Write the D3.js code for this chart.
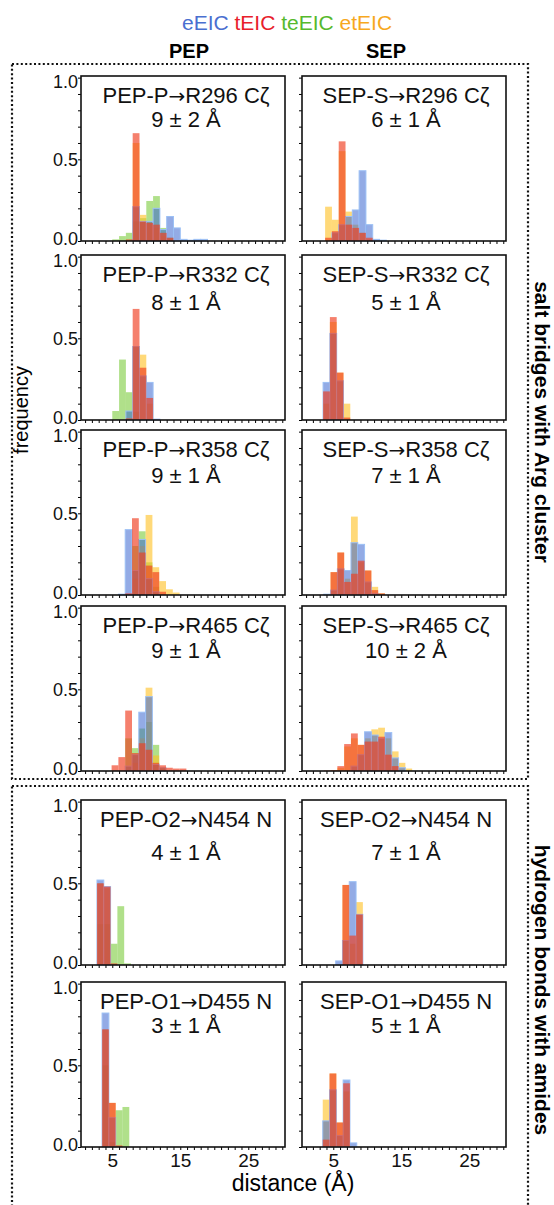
<!DOCTYPE html>
<html>
<head>
<meta charset="utf-8">
<script src="https://cdn.jsdelivr.net/npm/d3@7/dist/d3.min.js"></script>
<style>
  body { margin: 0; background: #fff; }
  svg { display: block; font-family: "Liberation Sans", Arial, sans-serif; }
</style>
</head>
<body>
<svg id="chart"></svg>
<script>
// panel order: row by row, PEP (left) then SEP (right)
const seriesNames = ["eEIC", "tEIC", "teEIC", "etEIC"];
const titleFrom = ["PEP-P", "SEP-S", "PEP-P", "SEP-S", "PEP-P", "SEP-S", "PEP-P", "SEP-S",
                   "PEP-O2", "SEP-O2", "PEP-O1", "SEP-O1"];
const titleTo = ["R296 Cζ", "R296 Cζ", "R332 Cζ", "R332 Cζ", "R358 Cζ", "R358 Cζ",
                 "R465 Cζ", "R465 Cζ", "N454 N", "N454 N", "D455 N", "D455 N"];
const means = ["9 ± 2 Å", "6 ± 1 Å", "8 ± 1 Å", "5 ± 1 Å", "9 ± 1 Å", "7 ± 1 Å",
               "9 ± 1 Å", "10 ± 2 Å", "4 ± 1 Å", "7 ± 1 Å", "3 ± 1 Å", "5 ± 1 Å"];
// left edge of first bin (Å), bins are 1 Å wide
const binStart = [5.0, 3.8, 5.0, 3.5, 5.9, 3.6, 4.9, 3.6, 2.75, 5.35, 3.5, 3.45];
const binWidth = 1;

const eEIC = [
  [0, 0, 0, 0.21, 0.12, 0.12, 0.20, 0.07, 0.15, 0.08, 0.01, 0.005, 0.01, 0.01],
  [0, 0.05, 0.10, 0.15, 0.19, 0.43, 0.10, 0.01, 0.005],
  [0, 0, 0.055, 0.45, 0.27, 0.23, 0.005],
  [0.23, 0.53, 0.24, 0],
  [0.005, 0.40, 0.15, 0.34, 0.10, 0.02, 0, 0, 0],
  [0.005, 0.03, 0.16, 0.15, 0.32, 0.31, 0.08, 0.01, 0],
  [0, 0, 0.03, 0.10, 0.36, 0.455, 0.04, 0.02, 0, 0, 0],
  [0, 0, 0, 0, 0.03, 0.10, 0.24, 0.22, 0.20, 0.235, 0.08, 0.02, 0],
  [0.52, 0.48, 0, 0, 0],
  [0.025, 0.15, 0.51, 0.31],
  [0.82, 0.18, 0, 0],
  [0.16, 0.35, 0.07, 0.41, 0.025]
];
const tEIC = [
  [0, 0, 0.01, 0.66, 0.12, 0.11, 0.10, 0.05, 0.02, 0, 0, 0, 0, 0],
  [0.02, 0.06, 0.61, 0.10, 0.08, 0.05, 0.02, 0, 0],
  [0, 0, 0.01, 0.68, 0.32, 0.135, 0],
  [0.175, 0.63, 0.29, 0.015],
  [0, 0.01, 0.47, 0.26, 0.18, 0.14, 0.02, 0, 0],
  [0, 0.14, 0.26, 0.08, 0.13, 0.21, 0.15, 0.03, 0.01],
  [0.035, 0.085, 0.37, 0.11, 0.17, 0.13, 0.05, 0.035, 0.02, 0.015, 0.015],
  [0.003, 0.005, 0.03, 0.165, 0.23, 0.16, 0.18, 0.18, 0.21, 0.10, 0.03, 0, 0],
  [0.50, 0.48, 0.01, 0, 0],
  [0, 0.49, 0.18, 0.31],
  [0.72, 0.27, 0.01, 0],
  [0.045, 0.45, 0.15, 0.39, 0]
];
const teEIC = [
  [0.01, 0.03, 0.05, 0.12, 0.14, 0.245, 0.275, 0.08, 0.02, 0, 0, 0, 0, 0],
  [],
  [0.055, 0.37, 0.17, 0.05, 0, 0, 0],
  [],
  [0, 0, 0.30, 0.39, 0.20, 0.05, 0, 0, 0],
  [],
  [0, 0, 0.20, 0.14, 0.26, 0.30, 0.16, 0.02, 0, 0, 0],
  [],
  [0.25, 0.25, 0.13, 0.36, 0.01],
  [],
  [0.50, 0.03, 0.225, 0.245],
  []
];
const etEIC = [
  [0, 0, 0, 0.60, 0.16, 0.12, 0.08, 0.03, 0.01, 0, 0, 0, 0, 0],
  [0.21, 0.13, 0.55, 0.18, 0.10, 0.05, 0.01, 0, 0],
  [0, 0, 0, 0.45, 0.40, 0.10, 0],
  [0.10, 0.60, 0.29, 0.10],
  [0, 0, 0.10, 0.30, 0.49, 0.17, 0.085, 0.035, 0.015],
  [0, 0.14, 0.26, 0.10, 0.48, 0.20, 0.15, 0.05, 0.01],
  [0, 0, 0, 0.05, 0.20, 0.51, 0.095, 0.02, 0, 0, 0],
  [0, 0.003, 0.02, 0.15, 0.20, 0.16, 0.20, 0.255, 0.265, 0.20, 0.12, 0.05, 0.015],
  [0.50, 0.47, 0, 0, 0],
  [0, 0.49, 0.13, 0.385],
  [0.72, 0.27, 0, 0],
  [0.29, 0.45, 0.15, 0.34, 0]
];
const xTicks = [5, 15, 25];
const yTicks = [0, 0.5, 1.0];

const W = 554, H = 1205;
const colX = [81, 302], panelW = 204, panelH = 165;
const rowY = [76, 255, 430, 606, 800, 982];
const meanDy = [51, 55, 53, 52, 60, 51];

const legendColor = { eEIC: "#4a6fd0", tEIC: "#e8202a", teEIC: "#56b92c", etEIC: "#f7a81e" };
const barStyle = {
  teEIC: { fill: "#7ccc3c", op: 0.6, stroke: "none" },
  etEIC: { fill: "#ffc020", op: 0.6, stroke: "none" },
  eEIC:  { fill: "#3a66d0", op: 0.55, stroke: "#9cc0f5" },
  tEIC:  { fill: "#f03c1e", op: 0.65, stroke: "none" }
};
const drawOrder = [["teEIC", teEIC], ["etEIC", etEIC], ["eEIC", eEIC], ["tEIC", tEIC]];

const svg = d3.select("#chart").attr("width", W).attr("height", H);

const x = d3.scaleLinear().domain([0.4, 30.4]).range([0, panelW]);
const y = d3.scaleLinear().domain([0, 1.01]).range([panelH, 0]);

// dotted group boxes
svg.append("rect").attr("x", 12).attr("y", 64).attr("width", 516).attr("height", 715)
  .attr("fill", "none").attr("stroke", "#111").attr("stroke-width", 2.2).attr("stroke-dasharray", "2,2.4");
svg.append("rect").attr("x", 12).attr("y", 786).attr("width", 516).attr("height", 440)
  .attr("fill", "none").attr("stroke", "#111").attr("stroke-width", 2.2).attr("stroke-dasharray", "2,2.4");

// legend
const legend = svg.append("text").attr("x", 287).attr("y", 30).attr("text-anchor", "middle")
  .attr("font-size", 21);
seriesNames.forEach((s, i) => {
  legend.append("tspan").text((i ? " " : "") + s).attr("fill", legendColor[s]);
});

svg.append("text").attr("x", 189).attr("y", 58).attr("text-anchor", "middle")
  .attr("font-size", 20).attr("font-weight", "bold").text("PEP");
svg.append("text").attr("x", 386).attr("y", 58).attr("text-anchor", "middle")
  .attr("font-size", 20).attr("font-weight", "bold").text("SEP");

titleFrom.forEach((t, p) => {
  const r = Math.floor(p / 2), c = p % 2;
  const g = svg.append("g").attr("transform", `translate(${colX[c]},${rowY[r]})`);

  drawOrder.forEach(([name, arr]) => {
    const st = barStyle[name];
    g.append("g").selectAll("rect")
      .data(arr[p].map((v, i) => ({ x0: binStart[p] + i * binWidth, v })).filter(d => d.v > 0))
      .enter().append("rect")
      .attr("x", d => x(d.x0))
      .attr("width", x(binWidth) - x(0))
      .attr("y", d => y(d.v))
      .attr("height", d => panelH - y(d.v))
      .attr("fill", st.fill).attr("fill-opacity", st.op)
      .attr("stroke", st.stroke).attr("stroke-width", 1);
  });

  // minor ticks
  const ax = g.append("g").attr("transform", `translate(0,${panelH})`)
    .call(d3.axisBottom(x).tickValues(d3.range(1, 31)).tickSize(3).tickFormat(""));
  const ay = g.append("g")
    .call(d3.axisLeft(y).tickValues(d3.range(0, 11).map(d => d / 10)).tickSize(3).tickFormat(""));
  ax.select(".domain").remove();
  ay.select(".domain").remove();

  if (r === rowY.length - 1) {
    const lab = g.append("g").attr("transform", `translate(0,${panelH})`)
      .call(d3.axisBottom(x).tickValues(xTicks).tickSize(0).tickPadding(7));
    lab.select(".domain").remove();
    lab.selectAll("text").attr("font-size", 19).attr("font-family", "Liberation Sans, Arial, sans-serif").attr("fill", "#111");
  }
  if (c === 0) {
    const lab = g.append("g")
      .call(d3.axisLeft(y).tickValues(yTicks).tickSize(0).tickPadding(3).tickFormat(d3.format(".1f")));
    lab.select(".domain").remove();
    lab.selectAll("text").attr("font-size", 18).attr("font-family", "Liberation Sans, Arial, sans-serif").attr("fill", "#111")
      .attr("dy", d => d === 1 ? "0.55em" : d === 0 ? "0.2em" : "0.32em");
  }

  g.append("rect").attr("width", panelW).attr("height", panelH)
    .attr("fill", "none").attr("stroke", "#111").attr("stroke-width", 1.6);

  const cx = panelW / 2 + (c === 0 ? 3 : 2);
  const tt = g.append("text").attr("x", cx).attr("y", 27).attr("text-anchor", "middle")
    .attr("font-size", 22).attr("fill", "#111");
  tt.append("tspan").text(t);
  tt.append("tspan").attr("font-family", "DejaVu Sans").attr("font-size", 20).text("→");
  tt.append("tspan").text(titleTo[p]);
  g.append("text").attr("x", cx).attr("y", meanDy[r]).attr("text-anchor", "middle")
    .attr("font-size", 22).attr("fill", "#111").text(means[p]);
});

svg.append("text").attr("transform", "translate(28,410) rotate(-90)")
  .attr("text-anchor", "middle").attr("font-size", 20).text("frequency");
svg.append("text").attr("x", 293).attr("y", 1191).attr("text-anchor", "middle")
  .attr("font-size", 23).text("distance (Å)");

svg.append("text").attr("transform", "translate(535,422) rotate(90)")
  .attr("text-anchor", "middle").attr("font-size", 21).attr("font-weight", "bold")
  .text("salt bridges with Arg cluster");
svg.append("text").attr("transform", "translate(535,990) rotate(90)")
  .attr("text-anchor", "middle").attr("font-size", 21).attr("font-weight", "bold")
  .text("hydrogen bonds with amides");
</script>
</body>
</html>
